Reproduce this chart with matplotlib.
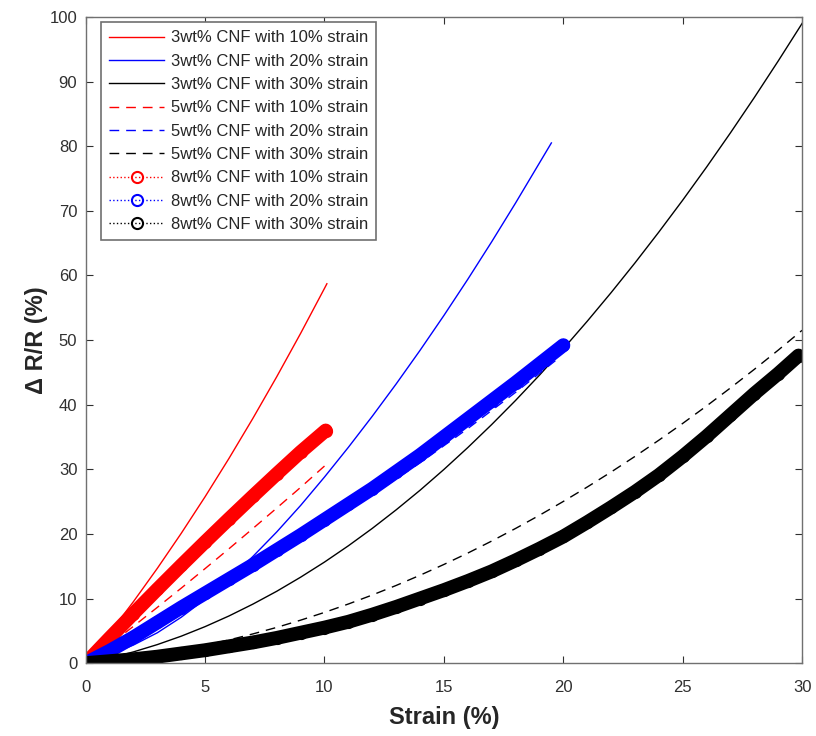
import matplotlib
matplotlib.use('Agg')
import matplotlib.pyplot as plt

plt.rcParams['font.family'] = ['Liberation Sans', 'DejaVu Sans']

# Valors llegits del gràfic (strain %, dR/R %)
x_3_10 = [0, 1, 2, 3, 4, 5, 6, 7, 8, 9, 10, 10.1]
y_3_10 = [0, 4.63, 9.52, 14.67, 20.08, 25.75, 31.68, 37.87, 44.32, 51.03, 58.0, 58.71]

x_3_20 = [0, 1, 2, 3, 4, 5, 6, 7, 8, 9, 10, 11, 12, 13, 14, 15, 16, 17, 18, 19, 19.5]
y_3_20 = [0, 1.3, 2.8, 4.7, 7.1, 9.9, 13.0, 16.5, 20.3, 24.4, 28.8, 33.4, 38.2, 43.2,
          48.4, 53.8, 59.4, 65.2, 71.2, 77.4, 80.5]

x_3_30 = list(range(0, 31))
y_3_30 = [0, 0.78, 1.74, 2.87, 4.17, 5.65, 7.30, 9.13, 11.12, 13.30, 15.64, 18.16, 20.85,
          23.72, 26.75, 29.97, 33.36, 36.92, 40.65, 44.56, 48.64, 52.90, 57.33, 61.93,
          66.71, 71.65, 76.77, 82.07, 87.54, 93.19, 99.0]

x_5_10 = list(range(0, 11))
y_5_10 = [0, 2.83, 5.7, 8.63, 11.6, 14.63, 17.7, 20.83, 24.0, 27.2, 30.5]

x_5_20 = [0, 2, 4, 6, 8, 10, 12, 14, 16, 18, 19.8]
y_5_20 = [0, 3.6, 7.8, 12.2, 16.6, 21.2, 26.0, 31.0, 36.3, 41.9, 47.2]

x_5_30 = list(range(0, 31))
y_5_30 = [0, 0.37, 0.82, 1.38, 2.02, 2.76, 3.59, 4.52, 5.53, 6.65, 7.85, 9.15, 10.54,
          12.02, 13.6, 15.27, 17.03, 18.89, 20.84, 22.88, 25.02, 27.25, 29.57, 31.99,
          34.5, 37.1, 39.8, 42.59, 45.47, 48.44, 51.51]

x_8_10 = [0, 1, 2, 3, 4, 5, 6, 7, 8, 9, 10.05]
y_8_10 = [0, 3.87, 7.68, 11.43, 15.12, 18.75, 22.32, 25.83, 29.28, 32.67, 36.0]

x_8_20 = list(range(0, 21))
y_8_20 = [0, 1.9, 4.0, 6.3, 8.6, 10.8, 13.0, 15.2, 17.5, 19.8, 22.2, 24.6, 27.0, 29.6,
          32.2, 35.0, 37.8, 40.6, 43.4, 46.3, 49.2]

x_8_30 = list(range(0, 30)) + [29.85]
y_8_30 = [0, 0.3, 0.6, 1.0, 1.5, 2.0, 2.6, 3.2, 3.9, 4.7, 5.5, 6.4, 7.5, 8.7, 10.0, 11.3,
          12.7, 14.2, 15.9, 17.7, 19.6, 21.8, 24.1, 26.5, 29.1, 32.0, 35.1, 38.4, 41.7,
          44.8, 47.6]

fig = plt.figure(figsize=(8.16, 7.36), dpi=100)
ax = fig.add_axes([0.105, 0.099, 0.878, 0.878])

# corbes 3wt% (línia contínua fina)
ax.plot(x_3_10, y_3_10, '-', color='r', lw=1, label='3wt% CNF with 10% strain')
ax.plot(x_3_20, y_3_20, '-', color='b', lw=1, label='3wt% CNF with 20% strain')
ax.plot(x_3_30, y_3_30, '-', color='k', lw=1, label='3wt% CNF with 30% strain')
# corbes 5wt% (discontínua)
ax.plot(x_5_10, y_5_10, '--', color='r', lw=1, dashes=(7, 5), label='5wt% CNF with 10% strain')
ax.plot(x_5_20, y_5_20, '--', color='b', lw=1, dashes=(7, 5), label='5wt% CNF with 20% strain')
ax.plot(x_5_30, y_5_30, '--', color='k', lw=1, dashes=(7, 5), label='5wt% CNF with 30% strain')

# corbes 8wt% (cercles densos -> banda gruixuda)
for xs, ys, c, lab in [(x_8_10, y_8_10, 'r', '8wt% CNF with 10% strain'),
                       (x_8_20, y_8_20, 'b', '8wt% CNF with 20% strain'),
                       (x_8_30, y_8_30, 'k', '8wt% CNF with 30% strain')]:
    ax.plot(xs, ys, '-', color=c, lw=10, solid_capstyle='round', solid_joinstyle='round')
    ax.plot(xs, ys, ':', color=c, lw=1, marker='o', ms=8, mfc='none', mew=1.5, label=lab)

ax.set_xlim(0, 30)
ax.set_ylim(0, 100)
ax.set_xticks(range(0, 31, 5))
ax.set_yticks(range(0, 101, 10))
ax.tick_params(direction='in', top=True, right=True, length=5, width=0.8,
               labelsize=12, colors='#303030')
ax.tick_params(axis='x', pad=12)
ax.tick_params(axis='y', pad=6)
for s in ax.spines.values():
    s.set_color('#707070')
    s.set_linewidth(1)

ax.set_xlabel('Strain (%)', fontsize=17, fontweight='bold', color='#262626', labelpad=8)
ax.set_ylabel('Δ R/R (%)', fontsize=17, fontweight='bold', color='#262626', labelpad=1)

leg = ax.legend(loc='upper left', fontsize=12, handlelength=3.3, labelspacing=0.5,
                borderpad=0.5, handletextpad=0.4, fancybox=False, framealpha=1,
                edgecolor='#707070', borderaxespad=0, bbox_to_anchor=(0.021, 0.992))
leg.get_frame().set_linewidth(1.2)
for t in leg.get_texts():
    t.set_color('#262626')

plt.savefig('out.png', dpi=100)
